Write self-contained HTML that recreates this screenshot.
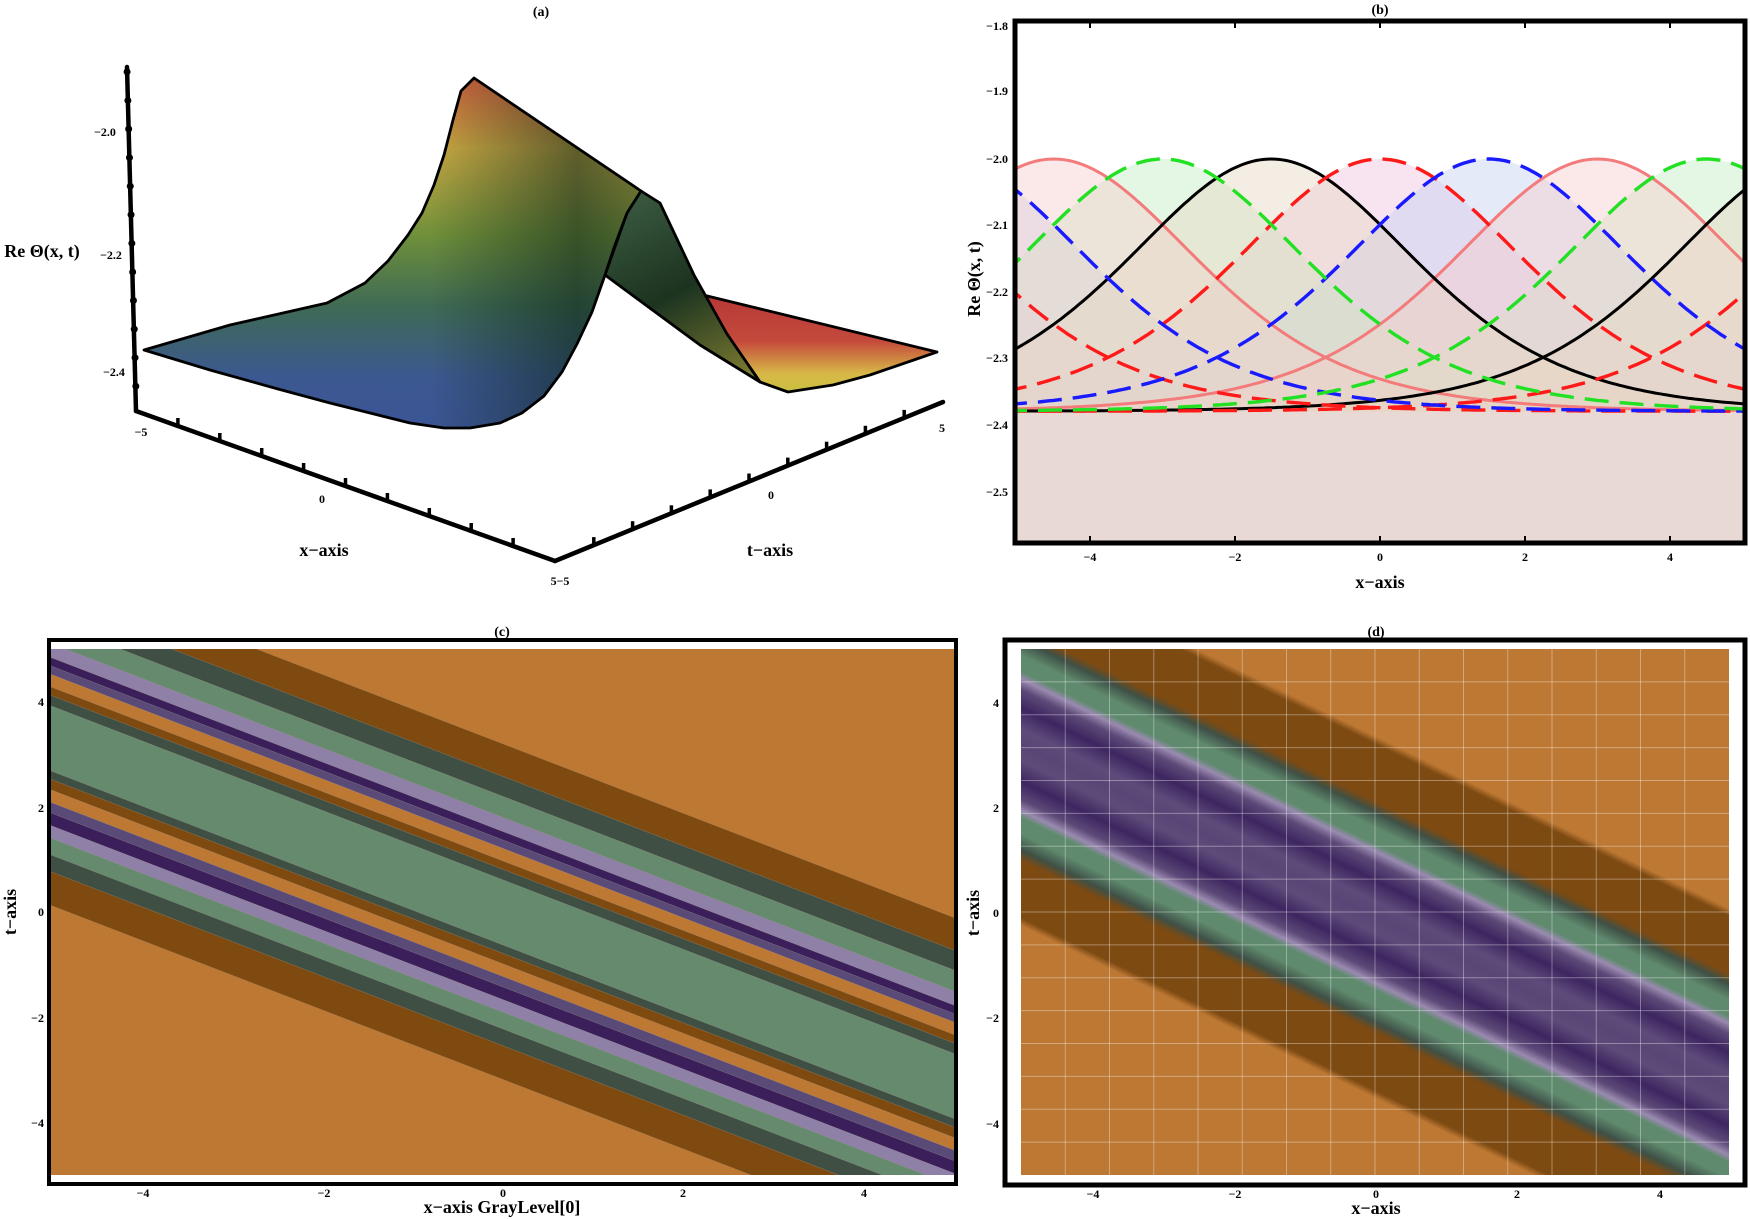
<!DOCTYPE html>
<html><head><meta charset="utf-8"><style>
html,body{margin:0;padding:0;background:#fff;width:1750px;height:1219px;overflow:hidden;}
svg{display:block;font-family:"Liberation Serif",serif;}
.tk{font-size:12px;font-weight:bold;}
.lab{font-size:18px;font-weight:bold;}
.ttl{font-size:14px;font-weight:bold;}
</style></head><body>
<svg id="s" width="1750" height="1219" viewBox="0 0 1750 1219" xmlns="http://www.w3.org/2000/svg">
<defs>
<linearGradient id="ga" x1="0" y1="78" x2="0" y2="430" gradientUnits="userSpaceOnUse">
<stop offset="0" stop-color="#d4623e"/><stop offset="0.2" stop-color="#c9a843"/>
<stop offset="0.45" stop-color="#6e8f3a"/><stop offset="0.65" stop-color="#3f6a55"/>
<stop offset="0.85" stop-color="#3c5890"/><stop offset="1" stop-color="#3b5595"/>
</linearGradient>
<linearGradient id="gad" x1="430" y1="0" x2="640" y2="0" gradientUnits="userSpaceOnUse">
<stop offset="0" stop-color="#0c2218" stop-opacity="0"/><stop offset="0.7" stop-color="#0c2218" stop-opacity="0.55"/><stop offset="1" stop-color="#0c2218" stop-opacity="0.35"/>
</linearGradient>
<linearGradient id="gb" x1="640" y1="190" x2="740" y2="380" gradientUnits="userSpaceOnUse">
<stop offset="0" stop-color="#3a5a40"/><stop offset="0.5" stop-color="#1c3320"/><stop offset="1" stop-color="#7a7a30"/>
</linearGradient>
<linearGradient id="gc" x1="0" y1="300" x2="0" y2="392" gradientUnits="userSpaceOnUse">
<stop offset="0" stop-color="#b83a38"/><stop offset="0.45" stop-color="#c44a3c"/><stop offset="0.8" stop-color="#d8b848"/><stop offset="1" stop-color="#c8c040"/>
</linearGradient>
<clipPath id="cb"><rect x="1015" y="21" width="730" height="522"/></clipPath>
<clipPath id="cc"><rect x="51" y="649" width="903" height="526"/></clipPath>
<clipPath id="cd"><rect x="1021" y="649" width="708" height="526"/></clipPath>
<linearGradient id="gdd" x1="0" y1="728.25" x2="0" y2="1106.25" gradientUnits="userSpaceOnUse">
<stop offset="0" stop-color="#bd7834"/><stop offset="0.021" stop-color="#bd7834"/>
<stop offset="0.042" stop-color="#7d4a12"/><stop offset="0.194" stop-color="#7d4a12"/>
<stop offset="0.222" stop-color="#3f5046"/><stop offset="0.264" stop-color="#5f8a6e"/>
<stop offset="0.306" stop-color="#5f8a6e"/><stop offset="0.326" stop-color="#9a8ab0"/>
<stop offset="0.354" stop-color="#5d4a78"/><stop offset="0.403" stop-color="#3d2660"/>
<stop offset="0.458" stop-color="#5e4b7a"/><stop offset="0.5" stop-color="#5a4676"/>
<stop offset="0.542" stop-color="#5e4b7a"/><stop offset="0.597" stop-color="#3d2660"/>
<stop offset="0.646" stop-color="#5d4a78"/><stop offset="0.674" stop-color="#9a8ab0"/>
<stop offset="0.694" stop-color="#5f8a6e"/><stop offset="0.736" stop-color="#5f8a6e"/>
<stop offset="0.778" stop-color="#3f5046"/><stop offset="0.806" stop-color="#7d4a12"/>
<stop offset="0.958" stop-color="#7d4a12"/><stop offset="0.979" stop-color="#bd7834"/>
<stop offset="1" stop-color="#bd7834"/>
</linearGradient>
</defs>

<!-- ===== Panel (a) ===== -->
<text x="541" y="16" class="ttl" text-anchor="middle">(a)</text>
<polygon points="699,294 937,352 870,375 833,385 788,392 760,382 727,334" fill="url(#gc)" stroke="#000" stroke-width="2.8" stroke-linejoin="round"/>
<polygon points="641,191 660,203 694,275 727,334 760,382 700,345 605,275 627,213" fill="url(#gb)" stroke="#000" stroke-width="2.8" stroke-linejoin="round"/>
<polygon points="144,350 230,325 327,303 365,283 388,261 408,235 422,213 434,185 444,155 453,120 461,91 474,78 641,191 627,213 615,245 605,275 592,312 577,344 562,372 544,396 522,413 500,423 470,428 444,428 410,423 378,415 330,403 278,389 210,370 144,350" fill="url(#ga)"/>
<polygon points="144,350 230,325 327,303 365,283 388,261 408,235 422,213 434,185 444,155 453,120 461,91 474,78 641,191 627,213 615,245 605,275 592,312 577,344 562,372 544,396 522,413 500,423 470,428 444,428 410,423 378,415 330,403 278,389 210,370 144,350" fill="url(#gad)" stroke="#000" stroke-width="2.8" stroke-linejoin="round"/>
<g stroke="#000" stroke-width="4.5" fill="none" stroke-linecap="round">
<line x1="127" y1="67" x2="136" y2="411"/>
<line x1="136" y1="411" x2="555" y2="561"/>
<line x1="555" y1="561" x2="943" y2="402"/>
</g>
<g id="adots"></g>
<text x="105" y="136" class="tk" text-anchor="middle">−2.0</text>
<text x="111" y="259" class="tk" text-anchor="middle">−2.2</text>
<text x="114" y="376" class="tk" text-anchor="middle">−2.4</text>
<text x="42" y="257" class="lab" text-anchor="middle">Re Θ(x, t)</text>
<text x="141" y="436" class="tk" text-anchor="middle">−5</text>
<text x="322" y="503" class="tk" text-anchor="middle">0</text>
<text x="560" y="585" class="tk" text-anchor="middle">5−5</text>
<text x="771" y="499" class="tk" text-anchor="middle">0</text>
<text x="942" y="432" class="tk" text-anchor="middle">5</text>
<text x="324" y="556" class="lab" text-anchor="middle">x−axis</text>
<text x="770" y="556" class="lab" text-anchor="middle">t−axis</text>

<!-- ===== Panel (b) ===== -->
<text x="1380" y="14" class="ttl" text-anchor="middle">(b)</text>
<g clip-path="url(#cb)">
<rect x="1015" y="411" width="730" height="134" fill="#e9d9d5"/>
<g id="bfill"></g><g id="bline"></g>
</g>
<rect x="1015" y="21" width="730" height="522" fill="none" stroke="#000" stroke-width="5"/>
<g id="bticks" stroke="#000" stroke-width="2"></g>
<g class="tk" text-anchor="end">
<text x="1008" y="30">−1.8</text><text x="1008" y="95">−1.9</text><text x="1008" y="163">−2.0</text>
<text x="1008" y="229">−2.1</text><text x="1008" y="296">−2.2</text><text x="1008" y="362">−2.3</text>
<text x="1008" y="429">−2.4</text><text x="1008" y="496">−2.5</text>
</g>
<g class="tk" text-anchor="middle">
<text x="1090" y="561">−4</text><text x="1235" y="561">−2</text><text x="1380" y="561">0</text>
<text x="1525" y="561">2</text><text x="1670" y="561">4</text>
</g>
<text x="1380" y="588" class="lab" text-anchor="middle">x−axis</text>
<text x="0" y="0" class="lab" text-anchor="middle" transform="translate(980,279) rotate(-90)" font-size="16">Re Θ(x, t)</text>

<!-- ===== Panel (c) ===== -->
<text x="502" y="636" class="ttl" text-anchor="middle" font-size="12">(c)</text>
<g clip-path="url(#cc)">
<rect x="51" y="649" width="903" height="526" fill="#bd7834"/>
<g transform="matrix(1,0.385,0,1,0,-193.7)" id="cbands"></g>
</g>
<rect x="49" y="640" width="907" height="544" fill="none" stroke="#000" stroke-width="4"/>
<g class="tk" text-anchor="end">
<text x="44" y="706">4</text><text x="44" y="812">2</text><text x="44" y="916">0</text>
<text x="44" y="1022">−2</text><text x="44" y="1127">−4</text>
</g>
<g class="tk" text-anchor="middle">
<text x="143" y="1197">−4</text><text x="324" y="1197">−2</text><text x="503" y="1197">0</text>
<text x="683" y="1197">2</text><text x="864" y="1197">4</text>
</g>
<text x="502" y="1213" class="lab" text-anchor="middle" font-size="16">x−axis GrayLevel[0]</text>
<text x="0" y="0" class="lab" text-anchor="middle" font-size="16" transform="translate(16,912) rotate(-90)">t−axis</text>

<!-- ===== Panel (d) ===== -->
<text x="1376" y="636" class="ttl" text-anchor="middle" font-size="12">(d)</text>
<g clip-path="url(#cd)">
<rect x="1021" y="649" width="708" height="526" fill="#bd7834"/>
<g transform="matrix(1,0.487,0,1,0,-669.9)">
<rect x="900" y="600" width="1000" height="700" fill="#bd7834"/>
<rect x="900" y="728.25" width="1000" height="378" fill="url(#gdd)"/>
</g>
<g id="dgrid" stroke="#ffffff" stroke-opacity="0.35" stroke-width="1"></g>
</g>
<rect x="1005" y="640" width="740" height="545" fill="none" stroke="#000" stroke-width="5"/>
<g class="tk" text-anchor="end">
<text x="999" y="707">4</text><text x="999" y="812">2</text><text x="999" y="917">0</text>
<text x="999" y="1022">−2</text><text x="999" y="1128">−4</text>
</g>
<g class="tk" text-anchor="middle">
<text x="1093" y="1198">−4</text><text x="1235" y="1198">−2</text><text x="1376" y="1198">0</text>
<text x="1517" y="1198">2</text><text x="1660" y="1198">4</text>
</g>
<text x="1376" y="1214" class="lab" text-anchor="middle" font-size="16">x−axis</text>
<text x="0" y="0" class="lab" text-anchor="middle" font-size="16" transform="translate(979,913) rotate(-90)">t−axis</text>
</svg>
<script>
(function(){
var NS="http://www.w3.org/2000/svg";
function el(p,t,a){var e=document.createElementNS(NS,t);for(var k in a)e.setAttribute(k,a[k]);p.appendChild(e);return e;}
var ad=document.getElementById('adots');
for(var i=0;i<12;i++){var f=(i+0.1)/11.3;el(ad,'circle',{cx:127+9*f,cy:69+323*f,r:3.5,fill:'#000'});}
function tick(p,x1,y1,x2,y2,n){for(var i=1;i<n;i++){var f=i/n;var x=x1+(x2-x1)*f,y=y1+(y2-y1)*f;el(p,'line',{x1:x,y1:y,x2:x,y2:y-8,stroke:'#000','stroke-width':3.5});}}
tick(ad,136,411,555,561,10);tick(ad,555,561,943,402,10);
var X=function(x){return 1380+72.5*x},Y=function(v){return 159+(-2-v)*664};
var curves=[
 {c:-7.5,col:'#ff1a1a',d:1,f:'#f0c0e0'},{c:0,col:'#ff1a1a',d:1,f:'#f0c0e0'},{c:7.5,col:'#ff1a1a',d:1,f:'#f0c0e0'},
 {c:-6,col:'#1a1aff',d:1,f:'#c4d0f0'},{c:1.5,col:'#1a1aff',d:1,f:'#c4d0f0'},
 {c:-3,col:'#22e022',d:1,f:'#c4ecc4'},{c:4.5,col:'#22e022',d:1,f:'#c4ecc4'},
 {c:-4.5,col:'#f37b7b',d:0,f:'#f6cccc'},{c:3,col:'#f37b7b',d:0,f:'#f6cccc'},
 {c:-1.5,col:'#000',d:0,f:'#e6d8c4'},{c:6,col:'#000',d:0,f:'#e6d8c4'}];
var bf=document.getElementById('bfill'),bl=document.getElementById('bline');
curves.forEach(function(c){var p='';for(var x=-5.2;x<=5.21;x+=0.05){var s=1/Math.cosh(0.375*(x-c.c));var v=-2.38+0.38*s*s;p+=(p?'L':'M')+X(x).toFixed(1)+','+Y(v).toFixed(1);}
 el(bf,'path',{d:p+'L'+X(5.2)+','+Y(-2.38)+'L'+X(-5.2)+','+Y(-2.38)+'Z',fill:c.f,'fill-opacity':0.45});
 var a={d:p,fill:'none',stroke:c.col,'stroke-width':c.d?3.4:3};if(c.d)a['stroke-dasharray']='24 11';
 c.el=a;});
curves.forEach(function(c){if(!c.d)el(bl,'path',c.el);});
curves.forEach(function(c){if(c.d)el(bl,'path',c.el);});
var bt=document.getElementById('bticks');
for(var x=-4;x<=4;x+=2){el(bt,'line',{x1:X(x),y1:543,x2:X(x),y2:536});el(bt,'line',{x1:X(x),y1:21,x2:X(x),y2:28});}
var C={br:'#7e4a10',dg:'#3f4f44',g:'#658a6d',lp:'#8f80a8',dp:'#3a1f5a',mp:'#5a4a78',o:'#bd7834'};
var bands=[[3.2,2.58,'br'],[2.58,2.2,'dg'],[2.2,1.8,'g'],[1.8,1.53,'lp'],[1.53,1.37,'dp'],[1.37,1.21,'mp'],[1.21,0.97,'o'],[0.97,0.81,'br'],[0.81,0.61,'dg'],[0.61,-0.63,'g'],[-0.63,-0.79,'dg'],[-0.79,-0.99,'br'],[-0.99,-1.23,'o'],[-1.23,-1.43,'mp'],[-1.43,-1.67,'dp'],[-1.67,-1.91,'lp'],[-1.91,-2.23,'g'],[-2.23,-2.55,'dg'],[-2.55,-3.19,'br']];
var cb=document.getElementById('cbands');
bands.forEach(function(b){var y1=912-52.5*b[0],y2=912-52.5*b[1];el(cb,'rect',{x:40,y:y1,width:930,height:y2-y1,fill:C[b[2]],stroke:'#a0a0a0','stroke-width':0.3,'stroke-opacity':0.5});});
var dg=document.getElementById('dgrid');
for(var i=1;i<16;i++){var x=1021+i*44.25;el(dg,'line',{x1:x,y1:649,x2:x,y2:1175});var y=649+i*32.875;el(dg,'line',{x1:1021,y1:y,x2:1729,y2:y});}
})();
</script>
</body></html>
